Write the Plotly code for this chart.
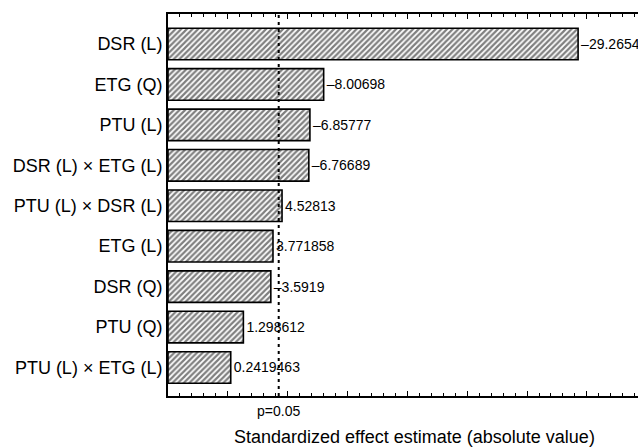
import plotly.graph_objects as go

categories = ["DSR (L)", "ETG (Q)", "PTU (L)", "DSR (L) × ETG (L)", "PTU (L) × DSR (L)",
              "ETG (L)", "DSR (Q)", "PTU (Q)", "PTU (L) × ETG (L)"]
effects = [29.2654, 8.00698, 6.85777, 6.76689, 4.52813, 3.771858, 3.5919, 1.298612, 0.2419463]
value_labels = ["–29.2654", "–8.00698", "–6.85777", "–6.76689", "4.52813",
                "3.771858", "–3.5919", "1.298612", "0.2419463"]
axis_min = -5
axis_max = 34.27
p_value_line = 4.25
p_label = "p=0.05"
x_title = "Standardized effect estimate (absolute value)"

FONT = "Liberation Sans, Arial, Helvetica, sans-serif"

fig = go.Figure()
fig.add_trace(go.Bar(
    y=categories,
    x=[v - axis_min for v in effects],
    base=axis_min,
    orientation="h",
    width=0.78,
    marker=dict(color="white",
                line=dict(color="black", width=1.6),
                pattern=dict(shape="/", fgcolor="black", bgcolor="white", size=4, solidity=0.55)),
    text=value_labels,
    textposition="outside",
    textfont=dict(family=FONT, size=14, color="black"),
    constraintext="none",
    cliponaxis=False,
    hoverinfo="skip",
))

fig.add_shape(type="line", xref="x", yref="paper", x0=p_value_line, x1=p_value_line, y0=0, y1=1,
              line=dict(color="black", width=2, dash="3px,4px"), layer="above")

fig.add_annotation(x=p_value_line, xref="x", y=0, yref="paper", yshift=-15, text=p_label,
                   xanchor="center", yanchor="middle",
                   showarrow=False, font=dict(family=FONT, size=14, color="black"))
fig.add_annotation(x=0.525, xref="paper", y=0, yref="paper", yshift=-41, text=x_title,
                   xanchor="center", yanchor="middle",
                   showarrow=False, font=dict(family=FONT, size=18, color="black"))

fig.update_layout(
    width=638, height=447,
    margin=dict(l=168, r=0, t=14, b=51, autoexpand=False),
    paper_bgcolor="white", plot_bgcolor="white",
    showlegend=False,
    font=dict(family=FONT, color="black"),
    xaxis=dict(range=[axis_min, axis_max], showgrid=False, zeroline=False, automargin=False,
               showline=True, linecolor="black", linewidth=1.6, mirror="allticks",
               ticks="inside", ticklen=5, tickwidth=1.4, tickcolor="black",
               tick0=0, dtick=5, showticklabels=False,
               minor=dict(ticks="inside", ticklen=3, tickwidth=1.2, tickcolor="black", dtick=1, tick0=0)),
    yaxis=dict(range=[8.705, -0.742], showgrid=False, zeroline=False, automargin=False,
               showline=True, linecolor="black", linewidth=2,
               ticks="", tickfont=dict(family=FONT, size=18, color="black"),
               ticklabelstandoff=0),
)

fig.write_html("out.html", config={"displayModeBar": False},
               post_script="document.body.style.margin='0';document.body.style.overflow='hidden';")
